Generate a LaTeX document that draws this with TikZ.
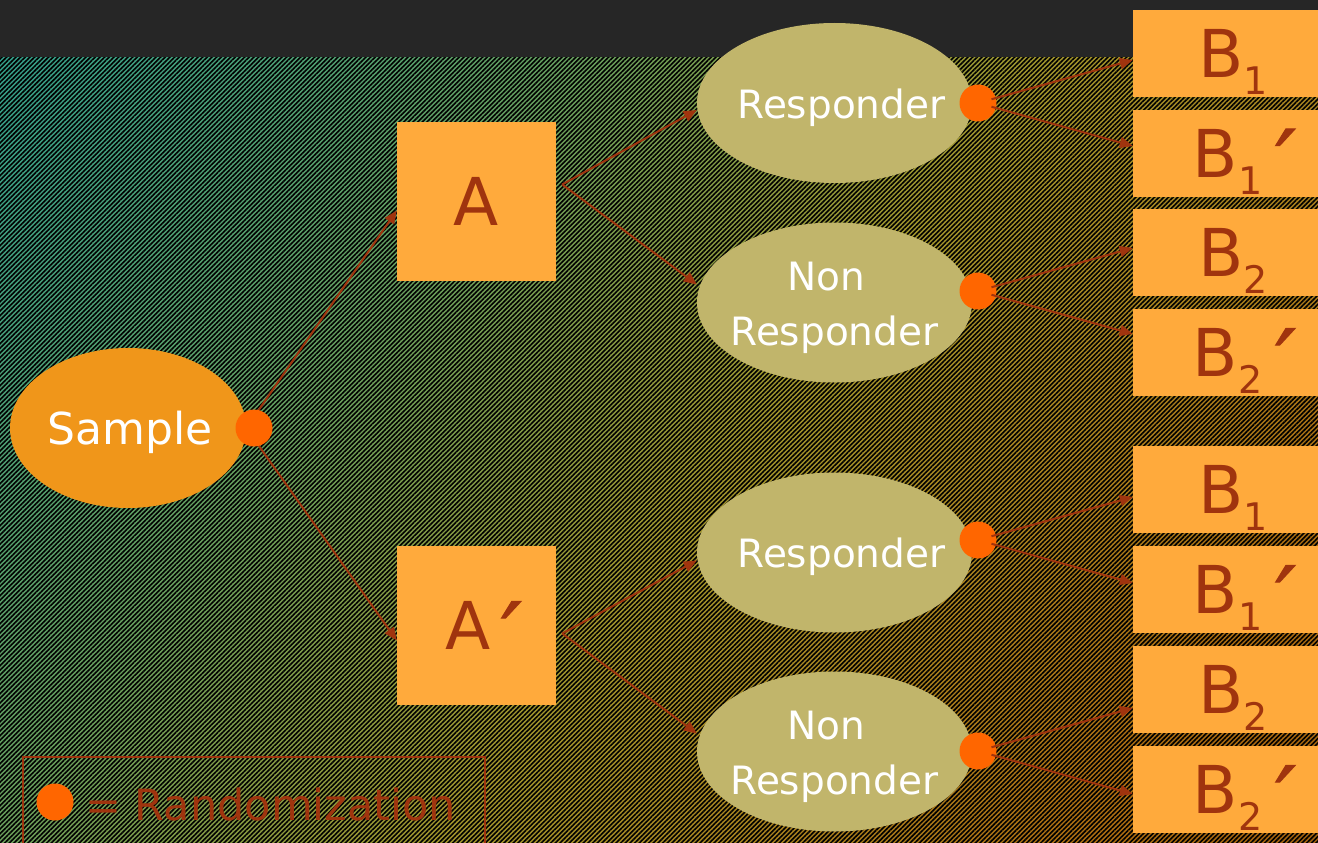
\documentclass[tikz,border=0pt]{standalone}
\usepackage{fontspec}
\setmainfont{DejaVu Sans}
\newfontfamily\primefont[FakeBold=1.2,FakeSlant=0.15]{DejaVu Sans}
\usetikzlibrary{shapes.geometric,arrows.meta,patterns.meta,calc}

\definecolor{topband}{RGB}{38,38,38}
\definecolor{bgA}{RGB}{48,160,142}
\definecolor{bgB}{RGB}{104,158,92}
\definecolor{bgC}{RGB}{162,150,44}
\definecolor{bgD}{RGB}{176,112,18}
\definecolor{bgE}{RGB}{164,98,14}
\definecolor{boxfill}{RGB}{255,170,60}
\definecolor{samplefill}{RGB}{240,150,26}
\definecolor{ovalfill}{RGB}{193,181,107}
\definecolor{dotfill}{RGB}{255,102,0}
\definecolor{ink}{RGB}{160,52,14}

% subscripted box labels and a large prime
\newcommand{\Bsub}[1]{B\smash{\raisebox{-17pt}{\fontsize{38}{38}\selectfont #1}}}
\newcommand{\primemark}{\smash{\raisebox{-19pt}{\primefont\fontsize{92}{92}\selectfont ′}}}

\tikzset{
  sampleoval/.style={ellipse, fill=samplefill, minimum width=236pt, minimum height=160pt,
    inner sep=0pt},
  oval/.style={ellipse, fill=ovalfill, minimum width=275pt, minimum height=160pt,
    inner sep=0pt},
  ovaltext/.style={inner sep=0pt, text=white, font=\fontsize{39}{55}\selectfont,
    text height=30pt, text depth=0pt},
  ovaltwo/.style={ovaltext, align=center, text height=85pt},
  sampletext/.style={inner sep=0pt, text=white, font=\fontsize{44}{52}\selectfont,
    text height=32pt, text depth=0pt},
  armbox/.style={rectangle, fill=boxfill, minimum width=159pt, minimum height=159pt,
    inner sep=0pt, text=ink, font=\fontsize{66}{66}\selectfont, text height=48pt, text depth=0pt},
  bbox/.style={rectangle, fill=boxfill, minimum width=200pt, minimum height=87pt,
    inner sep=0pt, text=ink, font=\fontsize{66}{66}\selectfont, text height=48pt, text depth=0pt},
  rdot/.style={circle, fill=dotfill, minimum size=37pt, inner sep=0pt},
  conn/.style={draw=ink, line width=2pt, -{Triangle[length=13pt,width=11pt]}},
}

\begin{document}
\begin{tikzpicture}[x=1pt,y=-1pt]
\useasboundingbox (0,0) rectangle (1318,843);

% diagonal colour gradient of the backdrop
\begin{scope}
  \clip (0,57) rectangle (1318,843);
  \foreach \i in {0,...,160}{
    \pgfmathsetmacro\p{\i*10}
    \ifdim\p pt<500pt
      \pgfmathsetmacro\t{\p/500*100}
      \colorlet{bandc}{bgB!\t!bgA}
    \else\ifdim\p pt<860pt
      \pgfmathsetmacro\t{(\p-500)/360*100}
      \colorlet{bandc}{bgC!\t!bgB}
    \else\ifdim\p pt<1360pt
      \pgfmathsetmacro\t{(\p-860)/500*100}
      \colorlet{bandc}{bgD!\t!bgC}
    \else
      \pgfmathsetmacro\t{min(100,(\p-1360)/200*100)}
      \colorlet{bandc}{bgE!\t!bgD}
    \fi\fi\fi
    \fill[bandc] ({\p*0.788+985.6},{\p*0.616-1260.8})
      -- ({(\p+11)*0.788+985.6},{(\p+11)*0.616-1260.8})
      -- ({(\p+11)*0.788-985.6},{(\p+11)*0.616+1260.8})
      -- ({\p*0.788-985.6},{\p*0.616+1260.8}) -- cycle;
  }
\end{scope}
% dark hatching over the gradient
\fill[pattern={Lines[angle=45,distance=3.3pt,line width=1.6pt]}, pattern color=black,
  fill opacity=0.62] (0,57) rectangle (1318,843);
% header band
\fill[topband] (0,0) rectangle (1318,57);

% nodes
\node[sampleoval] (sample) at (128,428) {};
\node[sampletext] (samplet) at (130,428) {Sample};
\node[armbox] (A)  at (476.5,201.5) {A};
\node[armbox] (Ap) at (476.5,625.5) {\kern6pt A\kern1pt\primemark};

\node[oval] (R1) at (834.5,103)   {};
\node[oval] (N1) at (834.5,302.5) {};
\node[oval] (R2) at (834.5,552.5) {};
\node[oval] (N2) at (834.5,751.5) {};
\node[ovaltext] (R1t) at ($(R1)+(7,0)$) {Responder};
\node[ovaltwo]  (N1t) at (N1) {Non\kern16pt\\Responder};
\node[ovaltext] (R2t) at ($(R2)+(7,0)$) {Responder};
\node[ovaltwo]  (N2t) at (N2) {Non\kern16pt\\Responder};

\node[bbox] (B11)  at (1233,53.5)  {\Bsub{1}};
\node[bbox] (B12)  at (1233,153)   {\kern14pt\Bsub{1}\kern4pt\primemark};
\node[bbox] (B21)  at (1233,252.5) {\Bsub{2}};
\node[bbox] (B22)  at (1233,352.5) {\kern14pt\Bsub{2}\kern4pt\primemark};
\node[bbox] (B31)  at (1233,489.5) {\Bsub{1}};
\node[bbox] (B32)  at (1233,589.5) {\kern14pt\Bsub{1}\kern4pt\primemark};
\node[bbox] (B41)  at (1233,689.5) {\Bsub{2}};
\node[bbox] (B42)  at (1233,789.5) {\kern14pt\Bsub{2}\kern4pt\primemark};

% connectors
\draw[conn] (sample.east) -- ($(A.west)+(0,9)$);
\draw[conn] (sample.east) -- ($(Ap.west)+(0,15)$);

\coordinate (a1) at ($(A.east)+(6,-17)$);
\coordinate (a2) at ($(Ap.east)+(6,8)$);
\draw[conn] (a1) -- ($(R1.west)+(0,7)$);
\draw[conn] (a1) -- ($(N1.west)+(0,-18)$);
\draw[conn] (a2) -- ($(R2.west)+(0,8)$);
\draw[conn] (a2) -- ($(N2.west)+(0,-18)$);

% randomisation points
\node[rdot] (s0) at (254,428) {};
\node[rdot] (d1) at (978,103) {};
\node[rdot] (d2) at (978,291) {};
\node[rdot] (d3) at (978,540) {};
\node[rdot] (d4) at (978,751) {};

\foreach \d/\u/\l in {d1/B11/B12, d2/B21/B22, d3/B31/B32, d4/B41/B42}{
  \draw[conn, shorten <=14pt] (\d.center) -- ($(\d -| \u.west)+(0,-43)$);
  \draw[conn, shorten <=14pt] (\d.center) -- ($(\d -| \l.west)+(0,43)$);
}

% legend
\draw[ink, line width=1.3pt] (23,757) rectangle (485,860);
\node[rdot] (key) at (55,802) {};
\node[anchor=base west, text=ink, font=\fontsize{43}{52}\selectfont, inner sep=0pt]
  (keytext) at (85,820) {= Randomization};
\end{tikzpicture}
\end{document}
